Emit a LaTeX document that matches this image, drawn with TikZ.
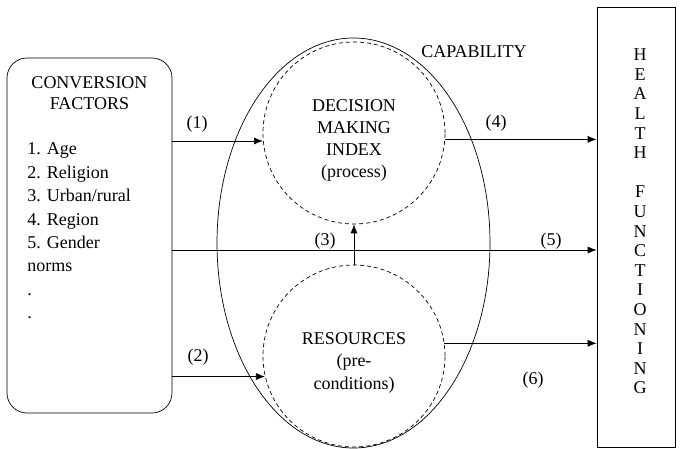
\documentclass[tikz,border=0pt]{standalone}
\usepackage{fontspec}
\setmainfont{Liberation Serif}
\usetikzlibrary{shapes.geometric,arrows.meta}

\begin{document}
\begin{tikzpicture}[x=1pt, y=-1pt, line width=0.7pt,
      font=\fontsize{18}{22}\selectfont,
      sub/.style = {draw, circle, dash pattern=on 4pt off 3pt, minimum size=182, inner sep=0},
      arr/.style = {-{Latex[length=9pt,width=7pt]}},
      num/.style = {inner sep=0}]
      \useasboundingbox (0,0) rectangle (680,449);
      \node (cf) [draw, rounded corners=20, minimum width=165, minimum height=355, inner sep=0] at (89.5,235.5) {};
      \node (cft) [align=center, inner sep=0, font=\fontsize{18}{21}\selectfont] at (89.5,93.5) {CONVERSION\\FACTORS};
      \node (cfl) [align=left, anchor=west, inner sep=0, font=\fontsize{18}{23.4}\selectfont] at (27,231)
            {1. Age\\2. Religion\\3. Urban/rural\\4. Region\\5. Gender\\norms\\.\\.};
      \node (cap) [draw, ellipse, minimum width=273, minimum height=410, inner sep=0] at (353.5,243) {};
      \node (capt) [num] at (474,52) {CAPABILITY};
      \node (dm) [sub] at (354,133) {};
      \node (dmt) [align=center, inner sep=0, font=\fontsize{18}{21.7}\selectfont] at (354,140.5)
            {DECISION\\MAKING\\INDEX\\(process)};
      \node (rs) [sub] at (354,356) {};
      \node (rst) [align=center, inner sep=0, font=\fontsize{18}{22.5}\selectfont] at (354,362.5)
            {RESOURCES\\(pre-\\conditions)};
      \node (hf) [draw, minimum width=78, minimum height=440, inner sep=0] at (636,227) {};
      \node (hft) [align=center, inner sep=0, font=\fontsize{18}{19.6}\selectfont] at (640,221.5)
            {H\\E\\A\\L\\T\\H\\[19.6pt]F\\U\\N\\C\\T\\I\\O\\N\\I\\N\\G};
      \coordinate (c5) at (0,250);
      \draw[arr] (cf.east |- dm.185) -- (dm.185);
      \draw[arr] (cf.east |- rs.193) -- (rs.193);
      \draw[arr] (rs.north) -- (dm.south);
      \draw[arr] (dm.-4) -- (hf.west |- dm.-4);
      \draw[arr] (cf.east |- c5) -- (hf.west |- c5);
      \draw[arr] (rs.8) -- (hf.west |- rs.8);
      \node (l1) [num] at (197,124) {(1)};
      \node (l2) [num] at (198,357) {(2)};
      \node (l3) [num] at (325,241) {(3)};
      \node (l4) [num] at (496,123) {(4)};
      \node (l5) [num] at (551,241) {(5)};
      \node (l6) [num] at (533,380) {(6)};
\end{tikzpicture}
\end{document}
